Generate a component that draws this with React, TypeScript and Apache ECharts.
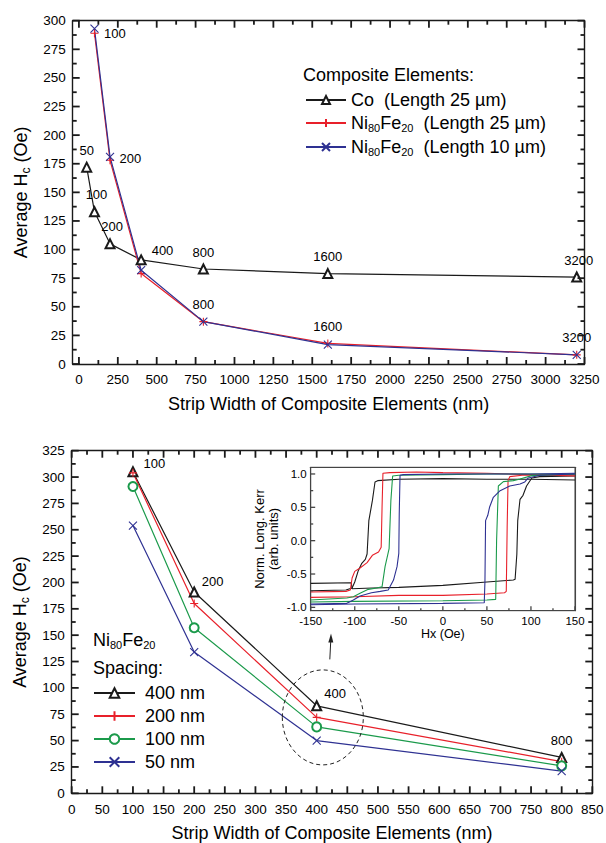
import React, { useEffect, useRef } from 'react';
import * as echarts from 'echarts';

const FONT = 'Liberation Sans, Arial, Helvetica, sans-serif';
const BLACK = '#1a1a1a';
const RED = '#e8202a';
const BLUE = '#2e3192';
const GREEN = '#1b9a4b';

// ---------- Top panel ----------
const coWidths = [50, 100, 200, 400, 800, 1600, 3200];
const coHc = [172, 133, 105, 91, 83, 79, 76];
const nifeWidths = [100, 200, 400, 800, 1600, 3200];
const nife25Hc = [289, 178, 79, 37, 18, 8];
const nife10Hc = [293, 181, 82, 37, 17, 8];
const topXTicks = [0, 250, 500, 750, 1000, 1250, 1500, 1750, 2000, 2250, 2500, 2750, 3000, 3250];
const topXMinor = [125, 375, 625, 875, 1125, 1375, 1625, 1875, 2125, 2375, 2625, 2875, 3125];
const topYTicks = [0, 25, 50, 75, 100, 125, 150, 175, 200, 225, 250, 275, 300];
const topYMinor = [12.5, 37.5, 62.5, 87.5, 112.5, 137.5, 162.5, 187.5, 212.5, 237.5, 262.5, 287.5];

// ---------- Bottom panel ----------
const botWidths = [100, 200, 400, 800];
const sp400 = [305, 191, 83, 34];
const sp200 = [304, 180, 72, 30];
const sp100 = [291, 157, 63, 26];
const sp50 = [254, 134, 50, 21];
const botXTicks = [0, 50, 100, 150, 200, 250, 300, 350, 400, 450, 500, 550, 600, 650, 700, 750, 800, 850];
const botXMinor = [25, 75, 125, 175, 225, 275, 325, 375, 425, 475, 525, 575, 625, 675, 725, 775, 825];
const botYTicks = [0, 25, 50, 75, 100, 125, 150, 175, 200, 225, 250, 275, 300, 325];
const botYMinor = [12.5, 37.5, 62.5, 87.5, 112.5, 137.5, 162.5, 187.5, 212.5, 237.5, 262.5, 287.5, 312.5];

// ---------- Inset: hysteresis loops (Hx Oe, norm. Kerr) ----------
const blackDown = [[150, 0.91], [100, 0.92], [50, 0.92], [0, 0.93], [-50, 0.92], [-74, 0.9], [-77, 0.88], [-80, 0.6], [-82, 0.45], [-84, 0.3], [-86, -0.2], [-88, -0.28], [-92, -0.34], [-96, -0.45], [-100, -0.62], [-103, -0.71], [-110, -0.74], [-150, -0.75]];
const blackUp = [[-150, -0.64], [-104, -0.63], [-103, -0.72], [-80, -0.71], [-50, -0.7], [0, -0.67], [50, -0.62], [80, -0.59], [82, -0.58], [84, -0.2], [85, 0.3], [87.6, 0.62], [91, 0.68], [95, 0.82], [101, 0.94], [110, 0.96], [150, 0.97]];
const redDown = [[150, 0.97], [100, 0.99], [50, 1.01], [0, 1.02], [-30, 1.03], [-60, 1.02], [-68, 1.01], [-69, 0.5], [-70, -0.1], [-73, -0.17], [-80, -0.22], [-86, -0.33], [-94, -0.41], [-100, -0.46], [-103, -0.56], [-105, -0.74], [-110, -0.76], [-150, -0.77]];
const redUp = [[-150, -0.85], [-100, -0.84], [-50, -0.82], [0, -0.82], [50, -0.8], [70, -0.78], [72, -0.76], [73, 0.2], [74, 0.9], [76, 0.96], [90, 0.98], [150, 0.99]];
const greenDown = [[150, 1.0], [100, 1.0], [50, 1.0], [0, 0.99], [-50, 0.98], [-57, 0.97], [-59, 0.6], [-61, -0.12], [-65.6, -0.39], [-69, -0.69], [-75, -0.71], [-84.6, -0.73], [-94, -0.79], [-101.6, -0.84], [-109, -0.86], [-150, -0.89]];
const greenUp = [[-150, -0.92], [-100, -0.91], [0, -0.9], [50, -0.89], [60, -0.88], [61, 0.0], [63, 0.82], [68.7, 0.885], [80, 0.9], [87.6, 0.925], [100.8, 0.975], [150, 1.0]];
const blueDown = [[150, 1.01], [100, 1.0], [0, 1.0], [-45, 0.99], [-48.6, 0.98], [-49.5, 0.4], [-50, -0.19], [-52, -0.39], [-56, -0.59], [-62, -0.74], [-71, -0.76], [-81, -0.78], [-94, -0.83], [-101.6, -0.89], [-109, -0.94], [-150, -0.95]];
const blueUp = [[-150, -0.96], [-100, -0.95], [0, -0.94], [47, -0.93], [47.8, -0.6], [48.5, 0.3], [51, 0.38], [53, 0.5], [57.3, 0.65], [65, 0.75], [76, 0.82], [87.6, 0.85], [93, 0.88], [97, 0.94], [110, 0.98], [150, 1.0]];
const insetXTicks = [-150, -100, -50, 0, 50, 100, 150];
const insetXMinor = [-125, -75, -25, 25, 75, 125];
const insetYTicks = [-1, -0.5, 0, 0.5, 1];
const insetYMinor = [-0.75, -0.25, 0.25, 0.75];

const PLUS = 'path://M0,5L10,5M5,0L5,10';
const CROSS = 'path://M0,0L10,10M10,0L0,10';

const legendNames: Record<string, string> = {
  Co: '{n|Co  (Length 25 µm)}',
  NiFe25: '{n|Ni}{s|80}{n|Fe}{s|20}{n|  (Length 25 µm)}',
  NiFe10: '{n|Ni}{s|80}{n|Fe}{s|20}{n|  (Length 10 µm)}',
  s400: '{n|400 nm}',
  s200: '{n|200 nm}',
  s100: '{n|100 nm}',
  s50: '{n|50 nm}',
};

const rich = {
  n: { fontSize: 18, fontFamily: FONT, color: '#000', lineHeight: 20 },
  s: { fontSize: 11, fontFamily: FONT, color: '#000', lineHeight: 9, verticalAlign: 'bottom' },
};
const nameRich = {
  a: { fontSize: 18, fontFamily: FONT, color: '#000', lineHeight: 22 },
  s: { fontSize: 12, fontFamily: FONT, color: '#000', lineHeight: 11, verticalAlign: 'bottom' },
};

const tickLabel = { fontSize: 13.5, fontFamily: FONT, color: '#000' };
const axLine = { show: true, onZero: false, lineStyle: { color: BLACK, width: 1.4 } };
const inLine = { show: true, onZero: false, lineStyle: { color: '#444', width: 1.1 } };
const noTick = { show: false };

function lbl(pos: string, offset: number[] = [0, 0]) {
  return { show: true, position: pos, offset, fontSize: 13, fontFamily: FONT, color: '#000', formatter: (p: any) => String(p.value[0]) };
}

function mainSeries(name: string, xs: number[], ys: number[], color: string, symbol: string, xi: number, yi: number, labels: Record<number, any>) {
  return {
    name,
    type: 'line',
    xAxisIndex: xi,
    yAxisIndex: yi,
    data: xs.map((x, i) => (labels[x] ? { value: [x, ys[i]], label: labels[x] } : { value: [x, ys[i]] })),
    symbol,
    symbolSize: symbol.startsWith('path') ? 8 : 9,
    lineStyle: { color, width: 1.2 },
    itemStyle: { color, borderColor: color, borderWidth: 1.1 },
    label: { show: false },
    z: 3,
  };
}

function loop(name: string, data: number[][], color: string) {
  return {
    name,
    type: 'line',
    xAxisIndex: 4,
    yAxisIndex: 4,
    data,
    symbol: 'none',
    showSymbol: false,
    lineStyle: { color, width: 1.1 },
    silent: true,
    z: 5,
  };
}

// Box ticks drawn by a custom series (inward, on the frame of a grid)
function tickSeries(xi: number, yi: number, xr: number[], yr: number[], xMaj: number[], xMin: number[], yMaj: number[], yMin: number[], big: number, small: number, color: string, tw: number, allSides: boolean) {
  const data = [
    ...xMaj.map((v) => [v, 0]),
    ...xMin.map((v) => [v, 1]),
    ...yMaj.map((v) => [v, 2]),
    ...yMin.map((v) => [v, 3]),
  ];
  return {
    type: 'custom',
    xAxisIndex: xi,
    yAxisIndex: yi,
    silent: true,
    clip: false,
    z: 20,
    data,
    encode: { x: 0, y: 1 },
    renderItem: (params: any, api: any) => {
      const v = api.value(0);
      const k = api.value(1);
      const bl = api.coord([xr[0], yr[0]]);
      const tr = api.coord([xr[1], yr[1]]);
      const len = k === 0 || k === 2 ? big : small;
      const children: any[] = [];
      const st = { fill: color };
      if (k < 2) {
        const x = api.coord([v, yr[0]])[0];
        children.push({ type: 'rect', shape: { x: x - tw / 2, y: bl[1] - len, width: tw, height: len }, style: st });
        if (allSides) children.push({ type: 'rect', shape: { x: x - tw / 2, y: tr[1], width: tw, height: len }, style: st });
      } else {
        const y = api.coord([xr[0], v])[1];
        children.push({ type: 'rect', shape: { x: bl[0], y: y - tw / 2, width: len, height: tw }, style: st });
        if (allSides) children.push({ type: 'rect', shape: { x: tr[0] - len, y: y - tw / 2, width: len, height: tw }, style: st });
      }
      return { type: 'group', children };
    },
  };
}

export default function App() {
  const ref = useRef<HTMLDivElement>(null);
  useEffect(() => {
    const chart = echarts.init(ref.current!, null, { renderer: 'svg' });
    const option: any = {
      animation: false,
      backgroundColor: '#fff',
      textStyle: { fontFamily: FONT },
      grid: [
        { left: 72.7, top: 20.7, width: 511.8, height: 343.3, outerBoundsMode: 'none' },
        { left: 71.7, top: 450.7, width: 520.6, height: 342.6, outerBoundsMode: 'none' },
        { left: 310.7, top: 467.3, width: 264.3, height: 143.4, show: true, backgroundColor: '#fff', borderColor: '#444', borderWidth: 1, outerBoundsMode: 'none', z: 4 },
      ],
      xAxis: [
        {
          type: 'value', gridIndex: 0, position: 'bottom', min: -40, max: 3250,
          axisLine: axLine, splitLine: { show: false }, axisTick: noTick,
          axisLabel: { ...tickLabel, margin: 8, customValues: topXTicks, formatter: (v: number) => String(v) },
          name: 'Strip Width of Composite Elements (nm)', nameLocation: 'middle', nameGap: 31,
          nameTextStyle: { fontSize: 18, fontFamily: FONT, color: '#000' },
        },
        {
          type: 'value', gridIndex: 0, position: 'top', min: -40, max: 3250,
          axisLine: axLine, splitLine: { show: false }, axisLabel: { show: false }, axisTick: noTick,
        },
        {
          type: 'value', gridIndex: 1, position: 'bottom', min: 0, max: 850, interval: 50,
          axisLine: axLine, splitLine: { show: false }, axisTick: noTick,
          axisLabel: { ...tickLabel, margin: 9 },
          name: 'Strip Width of Composite Elements (nm)', nameLocation: 'middle', nameGap: 31,
          nameTextStyle: { fontSize: 18, fontFamily: FONT, color: '#000' },
        },
        {
          type: 'value', gridIndex: 1, position: 'top', min: 0, max: 850, interval: 50,
          axisLine: axLine, splitLine: { show: false }, axisLabel: { show: false }, axisTick: noTick,
        },
        {
          type: 'value', gridIndex: 2, position: 'bottom', min: -150, max: 150, interval: 50,
          axisLine: inLine, splitLine: { show: false }, axisTick: noTick,
          axisLabel: { fontSize: 11.5, fontFamily: FONT, color: '#000', margin: 4 },
          name: 'Hx (Oe)', nameLocation: 'middle', nameGap: 17,
          nameTextStyle: { fontSize: 12.5, fontFamily: FONT, color: '#000' },
          z: 5,
        },
        {
          type: 'value', gridIndex: 2, position: 'top', min: -150, max: 150, interval: 50,
          axisLine: inLine, splitLine: { show: false },
          axisTick: noTick, axisLabel: { show: false }, z: 5,
        },
      ],
      yAxis: [
        {
          type: 'value', gridIndex: 0, position: 'left', min: 0, max: 300, interval: 25,
          axisLine: axLine, splitLine: { show: false }, axisTick: noTick,
          axisLabel: { ...tickLabel, margin: 7 },
          name: '{a|Average H}{s|c}{a| (Oe)}', nameLocation: 'middle', nameGap: 40,
          nameTextStyle: { rich: nameRich },
        },
        {
          type: 'value', gridIndex: 0, position: 'right', min: 0, max: 300, interval: 25,
          axisLine: axLine, splitLine: { show: false }, axisLabel: { show: false }, axisTick: noTick,
        },
        {
          type: 'value', gridIndex: 1, position: 'left', min: 0, max: 325, interval: 25,
          axisLine: axLine, splitLine: { show: false }, axisTick: noTick,
          axisLabel: { ...tickLabel, margin: 7 },
          name: '{a|Average H}{s|c}{a| (Oe)}', nameLocation: 'middle', nameGap: 39,
          nameTextStyle: { rich: nameRich },
        },
        {
          type: 'value', gridIndex: 1, position: 'right', min: 0, max: 325, interval: 25,
          axisLine: axLine, splitLine: { show: false }, axisLabel: { show: false }, axisTick: noTick,
        },
        {
          type: 'value', gridIndex: 2, position: 'left', min: -1.05, max: 1.1,
          axisLine: inLine, splitLine: { show: false }, axisTick: noTick,
          axisLabel: { fontSize: 11.5, fontFamily: FONT, color: '#000', margin: 4, customValues: insetYTicks, formatter: (v: number) => v.toFixed(1) },
          name: 'Norm. Long. Kerr\n(arb. units)', nameLocation: 'middle', nameGap: 30,
          nameTextStyle: { fontSize: 13, fontFamily: FONT, color: '#000', lineHeight: 14 },
          z: 5,
        },
        {
          type: 'value', gridIndex: 2, position: 'right', min: -1.05, max: 1.1,
          axisLine: inLine, splitLine: { show: false },
          axisTick: noTick, axisLabel: { show: false }, z: 5,
        },
      ],
      legend: [
        {
          data: ['Co', 'NiFe25', 'NiFe10'], orient: 'vertical', left: 300, top: 86,
          itemWidth: 40, itemHeight: 10, itemGap: 5, selectedMode: false,
          formatter: (n: string) => legendNames[n], textStyle: { rich },
        },
        {
          data: ['s400', 's200', 's100', 's50'], orient: 'vertical', left: 88, top: 679,
          itemWidth: 41, itemHeight: 12, itemGap: 5, selectedMode: false,
          formatter: (n: string) => legendNames[n], textStyle: { rich, padding: [0, 0, 0, 5] },
        },
      ],
      series: [
        mainSeries('Co', coWidths, coHc, BLACK, 'emptyTriangle', 0, 0, {
          50: lbl('top'), 100: lbl('top', [2, 0]), 200: lbl('top', [2, 0]), 400: lbl('right', [0, -9]),
          800: lbl('top'), 1600: lbl('top'), 3200: lbl('top', [2, 0]),
        }),
        mainSeries('NiFe25', nifeWidths, nife25Hc, RED, PLUS, 0, 0, {
          100: lbl('right', [0, 0]), 200: lbl('right', [0, -2]), 800: lbl('top', [0, -1]), 1600: lbl('top', [0, -1]), 3200: lbl('top', [0, -1]),
        }),
        mainSeries('NiFe10', nifeWidths, nife10Hc, BLUE, CROSS, 0, 0, {}),
        mainSeries('s400', botWidths, sp400, BLACK, 'emptyTriangle', 2, 2, {
          100: lbl('right', [0, -8]), 200: lbl('right', [-3, -10]), 400: lbl('right', [-3, -12]), 800: lbl('top'),
        }),
        mainSeries('s200', botWidths, sp200, RED, PLUS, 2, 2, {}),
        mainSeries('s100', botWidths, sp100, GREEN, 'emptyCircle', 2, 2, {}),
        mainSeries('s50', botWidths, sp50, BLUE, CROSS, 2, 2, {}),
        loop('bd', blackDown, BLACK), loop('bu', blackUp, BLACK),
        loop('rd', redDown, RED), loop('ru', redUp, RED),
        loop('gd', greenDown, GREEN), loop('gu', greenUp, GREEN),
        loop('ud', blueDown, BLUE), loop('uu', blueUp, BLUE),
        tickSeries(0, 0, [-40, 3250], [0, 300], topXTicks, topXMinor, topYTicks, topYMinor, 7, 4, BLACK, 1.8, true),
        tickSeries(2, 2, [0, 850], [0, 325], botXTicks, botXMinor, botYTicks, botYMinor, 7, 4, BLACK, 1.8, true),
        tickSeries(4, 4, [-150, 150], [-1.05, 1.1], insetXTicks, insetXMinor, insetYTicks, insetYMinor, 4.5, 2.5, '#444', 1.3, false),
      ],
    };
    chart.setOption(option);

    const c = chart.convertToPixel({ xAxisIndex: 2, yAxisIndex: 2 }, [410, 72]) as number[];
    const cx = c[0];
    const cy = c[1];
    chart.setOption({
      graphic: [
        { type: 'text', left: 303, top: 66, style: { text: 'Composite Elements:', fontSize: 18, fontFamily: FONT, fill: '#000' } },
        { type: 'text', left: 93, top: 631, style: { text: '{n|Ni}{s|80}{n|Fe}{s|20}', rich } },
        { type: 'text', left: 93, top: 659, style: { text: 'Spacing:', fontSize: 18, fontFamily: FONT, fill: '#000' } },
        { type: 'ellipse', shape: { cx, cy, rx: 40.5, ry: 47.5 }, style: { fill: 'none', stroke: '#222', lineWidth: 1, lineDash: [4, 3] }, z: 10 },
        { type: 'line', shape: { x1: cx + 7, y1: cy - 58, x2: cx + 8, y2: cy - 78 }, style: { stroke: '#222', lineWidth: 1 }, z: 10 },
        { type: 'polygon', shape: { points: [[cx + 8.2, cy - 84], [cx + 5.5, cy - 75], [cx + 10.5, cy - 75]] }, style: { fill: '#222' }, z: 10 },
      ],
    });
    return () => chart.dispose();
  }, []);
  return <div ref={ref} style={{ position: 'absolute', left: 0, top: 0, width: 606, height: 843 }} />;
}
